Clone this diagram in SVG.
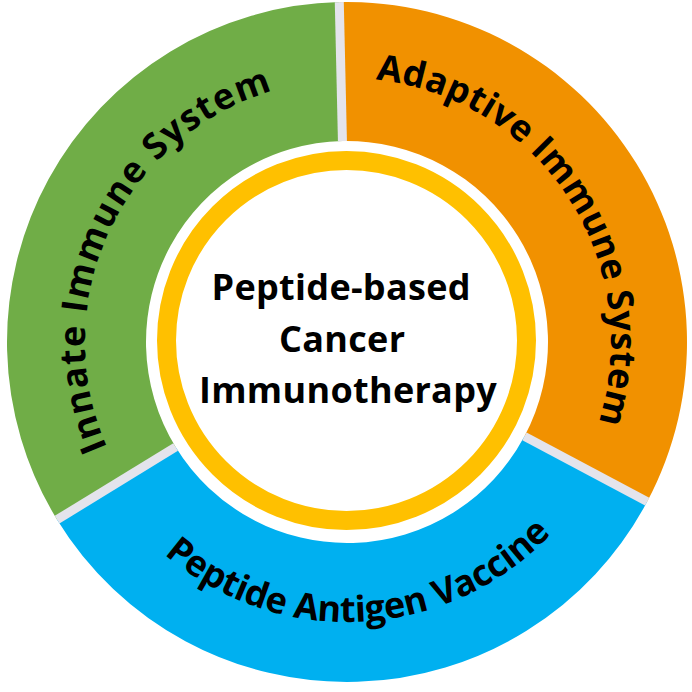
<svg xmlns="http://www.w3.org/2000/svg" xmlns:xlink="http://www.w3.org/1999/xlink" width="692" height="692" viewBox="0 0 692 692">
  <style>
    .lbl { font-family: "Open Sans", "Liberation Sans", sans-serif; font-weight: 700; fill: #000; }
    .arc { font-size: 36px; }
    .ctr { font-size: 36px; }
    .sep { stroke: #E4E4EC; stroke-width: 9; fill: none; }
  </style>
  <defs>
    <path id="p-innate" d="M196.7,556.6 A262,262 0 0 1 414.8,88.9"/>
    <path id="p-adaptive" d="M243.9,99 A264,264 0 0 1 527,535.1"/>
    <path id="p-vaccine" d="M89.3,451.4 A280,280 0 0 0 614.8,423.9"/>
  </defs>
  <rect width="692" height="692" fill="#fff"/>

  <g id="seg-innate">
    <path fill="#70AD47" d="M57.10,519.65 A340,340 0 0 1 339.29,2.09 L342.44,141.05 A201,201 0 0 0 175.62,447.02 Z"/>
    <text class="lbl arc" letter-spacing="1.4"><textPath xlink:href="#p-innate" href="#p-innate" startOffset="50%" text-anchor="middle">Innate Immune System</textPath></text>
  </g>

  <g id="seg-adaptive">
    <path fill="#F19100" d="M339.29,2.09 A340,340 0 0 1 647.20,501.62 L524.47,436.36 A201,201 0 0 0 342.44,141.05 Z"/>
    <text class="lbl arc" letter-spacing="0.3"><textPath xlink:href="#p-adaptive" href="#p-adaptive" startOffset="50%" text-anchor="middle">Adaptive Immune System</textPath></text>
  </g>

  <g id="seg-vaccine">
    <path fill="#00B0F0" d="M647.20,501.62 A340,340 0 0 1 57.10,519.65 L175.62,447.02 A201,201 0 0 0 524.47,436.36 Z"/>
    <text class="lbl arc" letter-spacing="-0.3"><textPath xlink:href="#p-vaccine" href="#p-vaccine" startOffset="50%" text-anchor="middle">Peptide Antigen Vaccine</textPath></text>
  </g>

  <g id="separators">
    <line class="sep" x1="342.44" y1="141.05" x2="339.29" y2="2.09"/>
    <line class="sep" x1="524.47" y1="436.36" x2="647.20" y2="501.62"/>
    <line class="sep" x1="175.62" y1="447.02" x2="57.10" y2="519.65"/>
  </g>

  <g id="center">
    <circle cx="346.5" cy="340.5" r="180" fill="#fff" stroke="#FFC000" stroke-width="19"/>
    <text class="lbl ctr" text-anchor="middle" letter-spacing="0.3">
      <tspan x="346" y="300">Peptide-based</tspan>
      <tspan x="347" y="352">Cancer</tspan>
      <tspan x="348" y="403">Immunotherapy</tspan>
    </text>
  </g>
</svg>
